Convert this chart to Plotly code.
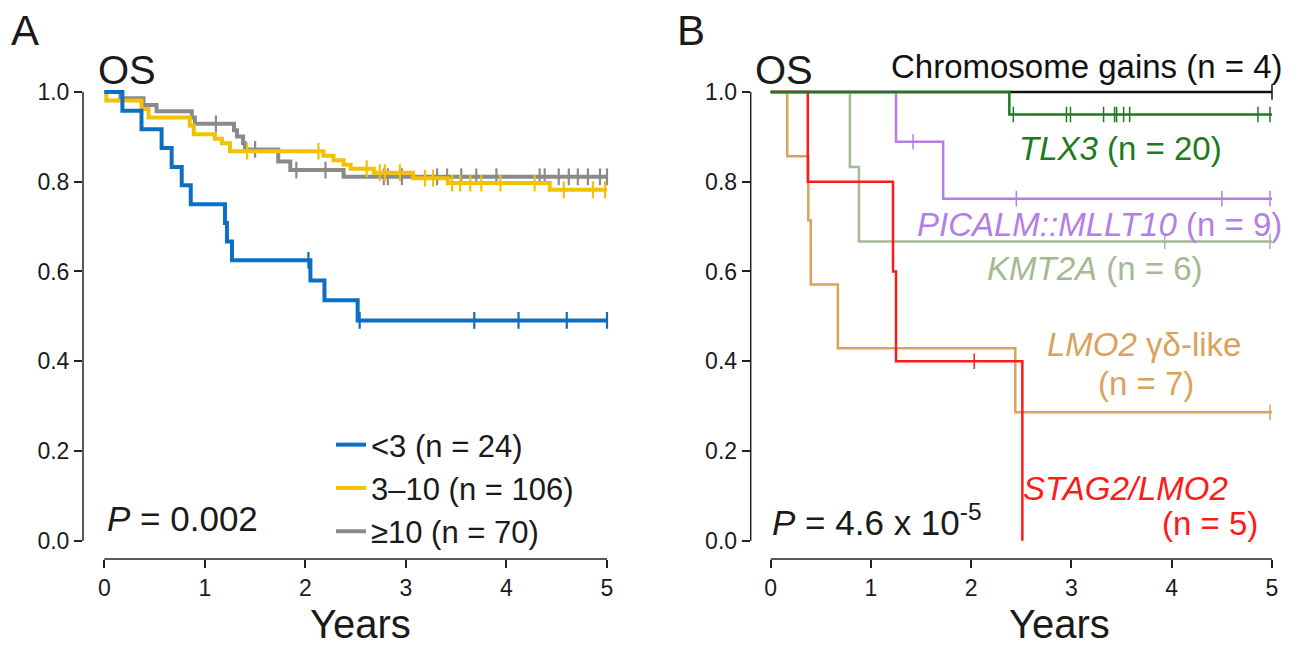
import numpy as np
import plotly.graph_objects as go

# The page body has an 8px margin; the figure is sized and positioned to compensate.
OFF = 8
W, H = 1304 - OFF, 648 - OFF
FONT = "Liberation Sans"

# ---------------- Panel A data (OS by age group) ----------------
a_lt3_t = [0, 0.18, 0.37, 0.57, 0.67, 0.77, 0.86, 1.20, 1.22, 1.27, 2.05, 2.19, 2.52, 5.0]
a_lt3_s = [1.0, 0.958, 0.917, 0.875, 0.833, 0.792, 0.75, 0.708, 0.667, 0.625, 0.580, 0.536, 0.491, 0.491]
a_lt3_c = [2.03, 2.54, 3.68, 4.12, 4.60, 5.0]

a_mid_t = [0, 0.02, 0.37, 0.44, 0.85, 0.89, 1.10, 1.17, 1.25, 2.18, 2.28, 2.38, 2.45, 2.68, 3.07, 3.42, 4.43, 5.0]
a_mid_s = [1.0, 0.981, 0.962, 0.943, 0.925, 0.906, 0.896, 0.886, 0.868, 0.858, 0.848, 0.838, 0.829, 0.820, 0.808, 0.797, 0.782, 0.782]
a_mid_c = [1.42, 2.13, 2.61, 2.74, 2.79, 2.94, 3.19, 3.27, 3.46, 3.54, 3.64, 3.75, 3.94, 4.28, 4.57, 4.86, 4.98]

a_ge10_t = [0, 0.16, 0.39, 0.52, 0.87, 0.90, 1.29, 1.32, 1.38, 1.40, 1.73, 1.85, 2.38, 5.0]
a_ge10_s = [1.0, 0.986, 0.971, 0.957, 0.943, 0.929, 0.915, 0.901, 0.886, 0.872, 0.845, 0.826, 0.811, 0.811]
a_ge10_c = [1.11, 1.50, 1.91, 2.20, 2.78, 2.82, 2.96, 3.31, 3.41, 3.55, 3.70, 3.90, 4.33, 4.38,
            4.52, 4.62, 4.71, 4.81, 4.93, 5.0]

a_names = ["<3 (n = 24)", "3\u201310 (n = 106)", "\u226510 (n = 70)"]
a_colors = ["#0b6fc3", "#f2c200", "#8a8a8a"]

# ---------------- Panel B data (OS by subtype) ----------------
b_chr_t = [0, 5.0]
b_chr_s = [1.0, 1.0]
b_chr_c = [5.0]

b_tlx3_t = [0, 2.38, 5.0]
b_tlx3_s = [1.0, 0.95, 0.95]
b_tlx3_c = [2.42, 2.95, 2.99, 3.32, 3.43, 3.45, 3.52, 3.58, 4.86, 4.98]

b_pic_t = [0, 1.25, 1.72, 5.0]
b_pic_s = [1.0, 0.889, 0.762, 0.762]
b_pic_c = [1.42, 2.45, 4.50, 4.98]

b_kmt_t = [0, 0.79, 0.88, 5.0]
b_kmt_s = [1.0, 0.833, 0.667, 0.667]
b_kmt_c = [3.93, 4.98]

b_lmo_t = [0, 0.165, 0.375, 0.40, 0.67, 2.44, 5.0]
b_lmo_s = [1.0, 0.857, 0.714, 0.571, 0.429, 0.286, 0.286]
b_lmo_c = [4.98]

b_stag_t = [0, 0.37, 1.22, 1.25, 2.51]
b_stag_s = [1.0, 0.8, 0.6, 0.4, 0.0]
b_stag_c = [2.03]

b_colors = {"chr": "#111111", "tlx3": "#1d7a1d", "pic": "#b57ee6",
            "kmt": "#a4b994", "lmo": "#d9a35b", "stag": "#ff1a1a"}

y_ticks = [0.0, 0.2, 0.4, 0.6, 0.8, 1.0]
x_ticks = [0, 1, 2, 3, 4, 5]


def step_at(times, surv, t):
    idx = np.searchsorted(np.asarray(times), np.asarray(t), side="right") - 1
    return list(np.asarray(surv)[idx])


def px(x):
    return (x - OFF) / W


def py(y):
    return 1 - (y - OFF) / H


fig = go.Figure()


def add_curve(t, s, c, color, lw, msize, xa, ya):
    fig.add_trace(go.Scatter(x=t, y=s, mode="lines", line=dict(color=color, width=lw, shape="hv"),
                             xaxis=xa, yaxis=ya, showlegend=False, hoverinfo="skip"))
    fig.add_trace(go.Scatter(x=c, y=step_at(t, s, c), mode="markers",
                             marker=dict(symbol="line-ns", size=msize,
                                         line=dict(color=color, width=max(1.5, lw * 0.55))),
                             xaxis=xa, yaxis=ya, showlegend=False, hoverinfo="skip"))


# Panel A
add_curve(a_ge10_t, a_ge10_s, a_ge10_c, a_colors[2], 4, 12, "x", "y")
add_curve(a_mid_t, a_mid_s, a_mid_c, a_colors[1], 4, 12, "x", "y")
add_curve(a_lt3_t, a_lt3_s, a_lt3_c, a_colors[0], 4, 12, "x", "y")
# legend entries (in reference order)
for nm, col in zip(a_names, a_colors):
    fig.add_trace(go.Scatter(x=[None], y=[None], mode="lines", line=dict(color=col, width=4),
                             name=nm, xaxis="x", yaxis="y", showlegend=True))

# Panel B
add_curve(b_chr_t, b_chr_s, b_chr_c, b_colors["chr"], 2.5, 11, "x2", "y2")
add_curve(b_kmt_t, b_kmt_s, b_kmt_c, b_colors["kmt"], 2.5, 11, "x2", "y2")
add_curve(b_pic_t, b_pic_s, b_pic_c, b_colors["pic"], 2.5, 11, "x2", "y2")
add_curve(b_lmo_t, b_lmo_s, b_lmo_c, b_colors["lmo"], 2.5, 11, "x2", "y2")
add_curve(b_stag_t, b_stag_s, b_stag_c, b_colors["stag"], 2.5, 11, "x2", "y2")
add_curve(b_tlx3_t, b_tlx3_s, b_tlx3_c, b_colors["tlx3"], 2.5, 11, "x2", "y2")

# ---------------- layout ----------------
y_bot_px, y_top_px = 559, 75
y0_px, y1_px = 540.7, 92
ppu = y0_px - y1_px
y_range = [-(y_bot_px - y0_px) / ppu, 1 + (y1_px - y_top_px) / ppu]
y_dom = [py(y_bot_px), py(y_top_px)]

tickfont = dict(family=FONT, size=23, color="#1a1a1a")
common_x = dict(tickvals=x_ticks, ticks="outside", ticklen=8, tickwidth=1.5, tickcolor="#222",
                showgrid=False, zeroline=False, showline=False, tickfont=tickfont, fixedrange=True)
common_y = dict(tickvals=y_ticks, tickformat=".1f", ticks="outside", ticklen=8, tickwidth=1.5,
                tickcolor="#222", showgrid=False, zeroline=False, showline=False,
                tickfont=tickfont, range=y_range, domain=y_dom, fixedrange=True)

# Panel A axis geometry
ax_left, ax0, ax5, ax_right = 83, 104.3, 607, 620
appy = (ax5 - ax0) / 5
xa_range = [-(ax0 - ax_left) / appy, (ax_right - ax0) / appy]
# Panel B axis geometry
bx_left, bx0, bx5, bx_right = 750.7, 770.7, 1272, 1290
bppy = (bx5 - bx0) / 5
xb_range = [-(bx0 - bx_left) / bppy, (bx_right - bx0) / bppy]

fig.update_layout(
    width=W, height=H, margin=dict(l=0, r=0, t=0, b=0),
    paper_bgcolor="white", plot_bgcolor="white",
    font=dict(family=FONT, color="#1a1a1a"),
    xaxis=dict(common_x, range=xa_range, domain=[px(ax_left), px(ax_right)], anchor="y"),
    yaxis=dict(common_y, anchor="x"),
    xaxis2=dict(common_x, range=xb_range, domain=[px(bx_left), px(bx_right)], anchor="y2"),
    yaxis2=dict(common_y, anchor="x2"),
    legend=dict(x=px(331), y=py(418), xanchor="left", yanchor="top",
                font=dict(family=FONT, size=31, color="#1a1a1a"),
                bgcolor="rgba(0,0,0,0)", tracegroupgap=0, itemwidth=30),
    showlegend=True,
)

# axis lines (R-style, spanning only the data extent)
for xr, yr in [("x", "y"), ("x2", "y2")]:
    fig.add_shape(type="line", xref=f"{xr} domain", yref=yr, x0=0, x1=0, y0=0, y1=1,
                  line=dict(color="#222", width=1.5))
    fig.add_shape(type="line", xref=xr, yref=f"{yr} domain", x0=0, x1=5, y0=0, y1=0,
                  line=dict(color="#222", width=1.5))


def ann(text, x, y, size, color="#1a1a1a", xanchor="center"):
    fig.add_annotation(text=text, x=px(x), y=py(y), xref="paper", yref="paper",
                       xanchor=xanchor, yanchor="middle", showarrow=False,
                       font=dict(family=FONT, size=size, color=color))


ann("A", 9, 30, 42, xanchor="left")
ann("B", 675, 30, 42, xanchor="left")
ann("OS", 96, 70, 40, xanchor="left")
ann("OS", 753, 70, 40, xanchor="left")
ann("Years", 360, 624, 40)
ann("Years", 1059, 624, 40)
ann("<i>P</i> = 0.002", 105, 518, 35, xanchor="left")
ann("<i>P</i> = 4.6 x 10<sup>-5</sup>", 770, 520, 35, xanchor="left")

ann("Chromosome gains (n = 4)", 1087, 67, 33, b_colors["chr"])
ann("<i>TLX3</i> (n = 20)", 1120, 148, 33, b_colors["tlx3"])
ann("<i>PICALM::MLLT10</i> (n = 9)", 1099, 224, 33, b_colors["pic"])
ann("<i>KMT2A</i> (n = 6)", 1095, 268, 33, b_colors["kmt"])
ann("<i>LMO2</i> \u03b3\u03b4-like", 1144, 344, 33, b_colors["lmo"])
ann("(n = 7)", 1146, 383, 33, b_colors["lmo"])
ann("<i>STAG2/LMO2</i>", 1125, 488, 33, b_colors["stag"])
ann("(n = 5)", 1210, 523, 33, b_colors["stag"])

fig.write_html("out.html")
